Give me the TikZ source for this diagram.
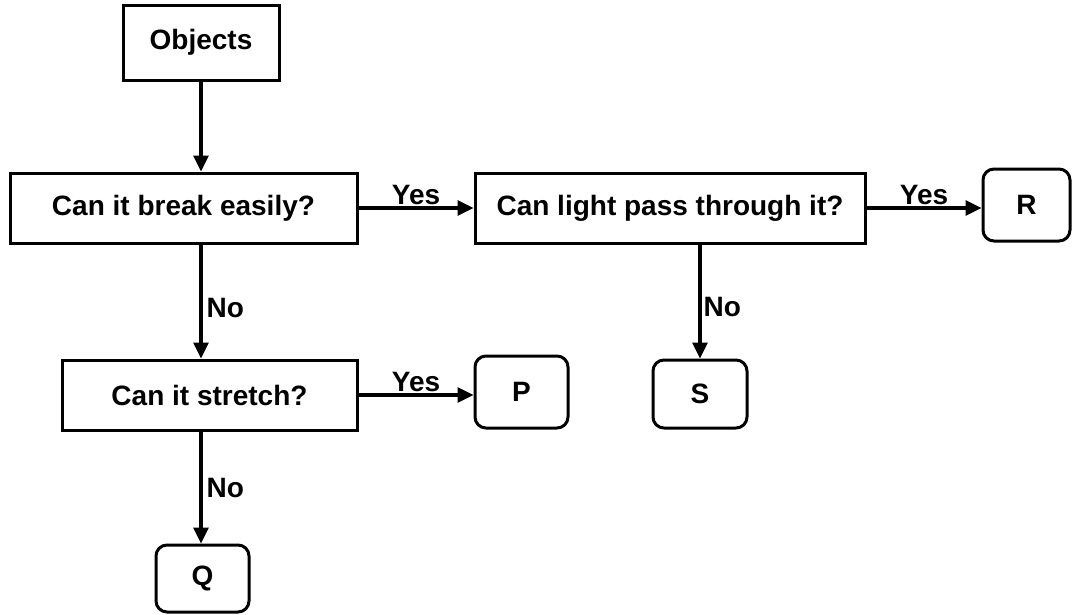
\documentclass[tikz,border=0pt]{standalone}
\usepackage{fontspec}
\setmainfont{Liberation Sans}
\usetikzlibrary{arrows.meta}
\begin{document}
\begin{tikzpicture}[x=1pt,y=-1pt,
  every node/.style={font=\fontsize{28}{33}\selectfont\bfseries},
  qbox/.style={draw, line width=3pt, rectangle, inner sep=0pt},
  endbox/.style={draw, line width=3pt, rectangle, rounded corners=11pt, inner sep=0pt},
  link/.style={line width=3.2pt, -{Triangle[length=16pt,width=15pt]}},
  lbl/.style={inner sep=2pt}
]
\useasboundingbox (0,0) rectangle (1072,614);
\node[qbox, minimum width=156pt, minimum height=75pt] (obj) at (201,42.5) {Objects};
\node[qbox, minimum width=347pt, minimum height=70pt] (brk) at (183.5,208) {Can it break easily?};
\node[qbox, minimum width=390pt, minimum height=70pt] (lig) at (670,208) {Can light pass through it?};
\node[endbox, minimum width=87pt, minimum height=72pt] (R) at (1026.5,205) {R};
\node[qbox, minimum width=295pt, minimum height=70pt] (str) at (209.5,395) {Can it stretch?};
\node[endbox, minimum width=93pt, minimum height=72pt] (P) at (521.5,392) {P};
\node[endbox, minimum width=94pt, minimum height=68pt] (S) at (700,394) {S};
\node[endbox, minimum width=93pt, minimum height=67pt] (Q) at (202.5,578.5) {Q};

\draw[link] (obj.south) -- (obj.south |- brk.north);
\draw[link] (brk.east) -- node[lbl, above] {Yes} (lig.west);
\draw[link] (lig.east) -- node[lbl, above] {Yes} (lig.east -| R.west);
\draw[link] (obj.south |- brk.south) -- node[lbl, right, xshift=2pt, yshift=-6pt] {No} (obj.south |- str.north);
\draw[link] (str.east) -- node[lbl, above] {Yes} (str.east -| P.west);
\draw[link] (S.north |- lig.south) -- node[lbl, right, yshift=-5pt] {No} (S.north);
\draw[link] (obj.south |- str.south) -- node[lbl, right, xshift=2pt] {No} (obj.south |- Q.north);
\end{tikzpicture}
\end{document}
